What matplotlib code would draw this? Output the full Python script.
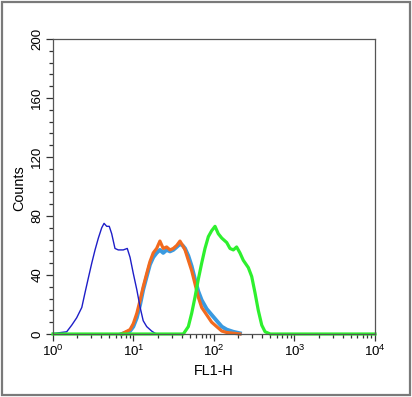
import numpy as np
import matplotlib.pyplot as plt
from matplotlib.ticker import MultipleLocator, LogLocator, NullFormatter
from matplotlib.patches import Rectangle

plt.rcParams['font.family'] = ['Liberation Sans', 'DejaVu Sans']
plt.rcParams['mathtext.default'] = 'regular'

# isotype control (dark blue)
ctrl_x = [1.0, 1.06, 1.48, 1.71, 1.97, 2.28, 2.50, 2.75, 3.03, 3.33, 3.66, 4.03, 4.31, 4.65,
          5.0, 5.36, 5.89, 6.47, 7.46, 8.37, 9.06, 9.95, 11.0, 12.1, 13.2, 14.6, 16.8, 18.5, 20.0]
ctrl_y = [0.5, 0.5, 1.5, 6, 11, 18, 28, 38, 48, 57, 65, 72, 75, 73,
          73, 68, 58, 57, 57, 58, 52, 41, 30, 18, 9, 5, 2, 0.5, 0]

# sample A (light blue) and sample B (orange)
mid_x = [7.13, 9.06, 9.95, 11.0, 12.1, 13.2, 14.6, 16.0, 17.6, 19.4, 21.3, 23.4, 25.8, 28.4,
         31.2, 34.4, 37.8, 40.8, 43.7, 48.0, 52.8, 58.1, 63.8, 70.3, 81.1, 93.5, 108, 125,
         144, 174, 210]
lblue_y = [0, 2, 5, 11, 20, 30, 39, 47, 52, 55, 57, 55, 57, 56,
           57, 59, 61, 60, 58, 53, 46, 37, 29, 23, 17, 13, 9, 5,
           3, 1.5, 0.5]
orange_y = [0, 3, 7, 14, 23, 32, 41, 49, 55, 58, 63, 58, 59, 57,
            58, 60, 63, 60, 57, 50, 43, 34, 25, 18, 13, 8, 5, 2,
            1, 0.5, 0]

# sample C (green)
pos_x = [1.0, 41.6, 48.0, 52.8, 58.1, 63.8, 70.3, 77.3, 85.1, 93.5, 103, 113, 125, 144, 158,
         174, 191, 210, 231, 267, 294, 323, 355, 392, 431, 500, 10000]
pos_y = [0, 0, 5, 14, 25, 37, 48, 58, 66, 70, 73, 68, 65, 62, 58,
         57, 59, 55, 50, 45, 39, 28, 16, 6, 1.5, 0, 0]

fig = plt.figure(figsize=(4.12, 3.97), dpi=100)
fig.patches.append(Rectangle((0.006, 0.005), 0.988, 0.99, transform=fig.transFigure,
                             fill=False, edgecolor='#7a7a7a', linewidth=1.6))
ax = fig.add_axes([0.1286, 0.1587, 0.7816, 0.7431])

ax.plot(mid_x, lblue_y, color='#3a9ae0', linewidth=2.8, clip_on=False)
ax.plot(mid_x, orange_y, color='#f26a1e', linewidth=2.3, clip_on=False)
ax.plot(ctrl_x, ctrl_y, color='#1e1ec8', linewidth=1.0, clip_on=False)
ax.plot(pos_x, pos_y, color='#2ef02e', linewidth=2.3, clip_on=False)

ax.set_xscale('log')
ax.set_xlim(1, 10000)
ax.set_ylim(0, 200)
ax.set_yticks([0, 40, 80, 120, 160, 200])
ax.yaxis.set_minor_locator(MultipleLocator(8))
ax.xaxis.set_minor_locator(LogLocator(base=10, subs=np.arange(2, 10)))
ax.xaxis.set_minor_formatter(NullFormatter())

for s in ax.spines.values():
    s.set_color('#555555')
    s.set_linewidth(0.9)

ax.tick_params(which='both', direction='out', color='#333333', width=0.9)
ax.tick_params(which='major', length=5, labelsize=9.6, pad=2)
ax.tick_params(which='minor', length=3)
ax.tick_params(axis='y', labelrotation=90)
for lbl in ax.get_yticklabels():
    lbl.set_va('center')

ax.set_xlabel('FL1-H', fontsize=10.4)
ax.set_ylabel('Counts', fontsize=10.4)
ax.xaxis.set_label_coords(0.5, -0.103)
ax.yaxis.set_label_coords(-0.084, 0.495)

plt.savefig('out.png', dpi=100)
